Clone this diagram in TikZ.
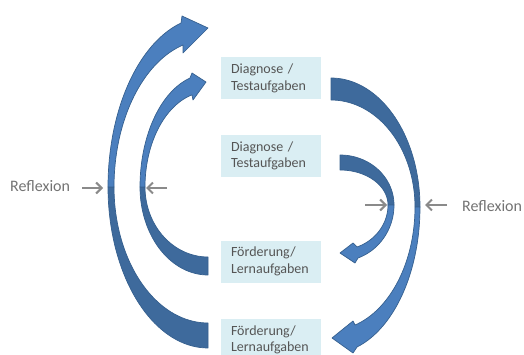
\documentclass[tikz,border=0pt]{standalone}
\usepackage{fontspec}
\setmainfont{Carlito}
\usetikzlibrary{arrows.meta}
\definecolor{boxblue}{HTML}{DAEEF3}
\definecolor{txtgray}{HTML}{555555}
\definecolor{reflgray}{HTML}{737373}
\definecolor{arrgray}{HTML}{8A8A8A}
\definecolor{lightarr}{HTML}{4B7FBE}
\definecolor{darkarr}{HTML}{3E6A9C}
\definecolor{edgearr}{HTML}{36608F}
\tikzset{
  box/.style={fill=boxblue, draw=none, minimum width=100pt, minimum height=42pt,
    text width=80pt, inner xsep=10pt, align=left, text=txtgray,
    font=\fontsize{14}{16.5}\selectfont},
  refltxt/.style={text=reflgray, font=\fontsize{16}{19}\selectfont, inner sep=0pt},
  refl/.style={draw=arrgray, line width=2pt, -{Straight Barb[length=5.5pt,width=11pt,line width=2pt]}},
  lightpart/.style={fill=lightarr, draw=edgearr, line width=0.7pt, line join=round},
  darkpart/.style={fill=darkarr, draw=edgearr, line width=0.7pt, line join=round},
}
\begin{document}
\begin{tikzpicture}[x=1pt,y=-1pt]
\useasboundingbox (0,0) rectangle (524,355);
\begin{scope}
\clip (0,0) rectangle (524,355);
% boxes
\node[box] (d1) at (271,78.5) {Diagnose /\\Testaufgaben};
\node[box] (d2) at (271,156) {Diagnose /\\Testaufgaben};
\node[box] (f1) at (271,261.5) {Förderung/\\Lernaufgaben};
\node[box] (f2) at (271,340) {Förderung/\\Lernaufgaben};
\end{scope}

% left outer arrow
\path[darkpart] (208,348) -- plot[domain=90:180,samples=40] ({208+100*cos(\x)},{187+161*sin(\x)})
  -- plot[domain=180:90,samples=40] ({208+94*cos(\x)},{187+136*sin(\x)}) -- cycle;
\path[lightpart] (108,187) -- plot[domain=180:254.34,samples=40] ({208+100*cos(\x)},{187+170.3*sin(\x)})
  -- (182,16) -- (208,28) -- (183,53) -- (183,45)
  -- plot[domain=254.58:180,samples=40] ({208+94*cos(\x)},{187+147.3*sin(\x)}) -- cycle;

% left inner arrow
\path[darkpart] (208,275) -- plot[domain=90:180,samples=40] ({208+68*cos(\x)},{187+88*sin(\x)})
  -- plot[domain=180:90,samples=40] ({208+63*cos(\x)},{187+70*sin(\x)}) -- cycle;
\path[lightpart] (140,187) -- plot[domain=180:254.6,samples=40] ({208+68*cos(\x)},{187+113*sin(\x)})
  -- (192,73) -- (206,82) -- (193,100) -- (192,95)
  -- plot[domain=254.7:180,samples=40] ({208+63*cos(\x)},{187+95.3*sin(\x)}) -- cycle;

% right outer arrow
\path[darkpart] (331,78) -- plot[domain=270:360,samples=40] ({331+89*cos(\x)},{207+129*sin(\x)})
  -- plot[domain=360:270,samples=40] ({331+84*cos(\x)},{207+107*sin(\x)}) -- cycle;
\path[lightpart] (420,207) -- plot[domain=0:73,samples=40] ({331+89*cos(\x)},{207+146.4*sin(\x)})
  -- (353,353) -- (332,338) -- (353,321) -- (355,325)
  -- plot[domain=73.4:0,samples=40] ({331+84*cos(\x)},{207+123.2*sin(\x)}) -- cycle;

% right inner arrow
\path[darkpart] (340,155) -- plot[domain=270:360,samples=40] ({340+54*cos(\x)},{205+50*sin(\x)})
  -- plot[domain=360:270,samples=40] ({340+48*cos(\x)},{205+35*sin(\x)}) -- cycle;
\path[lightpart] (394,205) -- plot[domain=0:70.5,samples=40] ({340+54*cos(\x)},{205+56.2*sin(\x)})
  -- (355,263) -- (340,253) -- (353,243) -- (357,247)
  -- plot[domain=69.3:0,samples=40] ({340+48*cos(\x)},{205+44.9*sin(\x)}) -- cycle;

% Reflexion labels and arrows
\node[refltxt, anchor=base west] (rl) at (10,191.5) {Reflexion};
\node[refltxt, anchor=base west] (rr) at (462,211.5) {Reflexion};
\coordinate (a1s) at (82,188);  \coordinate (a1e) at (103,188);
\coordinate (a2s) at (167,188); \coordinate (a2e) at (146,188);
\coordinate (a3s) at (365,205); \coordinate (a3e) at (387,205);
\coordinate (a4s) at (447,205); \coordinate (a4e) at (425,205);
\draw[refl] (a1s) -- (a1e);
\draw[refl] (a2s) -- (a2e);
\draw[refl] (a3s) -- (a3e);
\draw[refl] (a4s) -- (a4e);
\end{tikzpicture}
\end{document}
